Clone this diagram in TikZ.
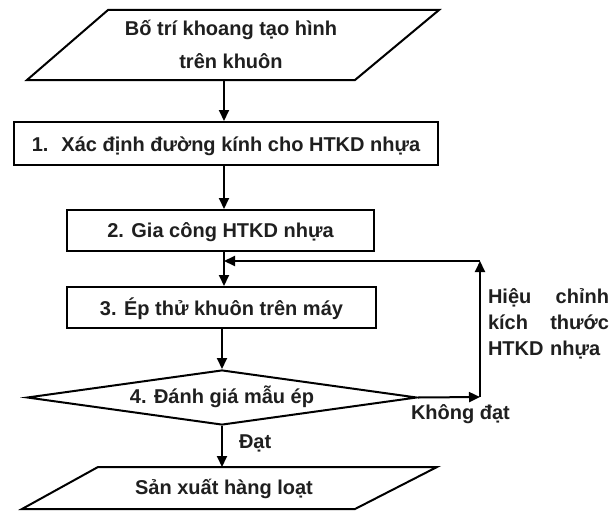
\documentclass[tikz,border=0pt]{standalone}
\usepackage{fontspec}
\setmainfont{Liberation Sans}
\usetikzlibrary{arrows.meta,shapes.geometric}
\begin{document}
\begin{tikzpicture}[x=1pt,y=-1pt,
  line width=2pt,
  lbl/.style={font=\bfseries\fontsize{20}{33}\selectfont, text=black!88, inner sep=0pt},
  stepbox/.style={draw, rectangle, inner sep=0pt},
  flow/.style={-{Triangle[length=11pt,width=10pt]}},
]
\fill[white] (0,0) rectangle (615,511);
\useasboundingbox (0,0) rectangle (615,511);

% input block at the top
\draw (108,10) -- (439,10) -- (355,80) -- (27,80) -- cycle;
\node[lbl, align=center] (start) at (231,44.5) {Bố trí khoang tạo hình\\trên khuôn};
\coordinate (startout) at (224,80);

% process steps
\node[stepbox, minimum width=424pt, minimum height=43pt] (b1) at (226,143.5) {};
\node[lbl] (t1) at (226,146) {1.~ Xác định đường kính cho HTKD nhựa};
\node[stepbox, minimum width=307pt, minimum height=41pt] (b2) at (220.5,230.5) {};
\node[lbl] (t2) at (220.5,232) {2. Gia công HTKD nhựa};
\node[stepbox, minimum width=309pt, minimum height=41pt] (b3) at (221.5,307.5) {};
\node[lbl] (t3) at (221.5,309) {3. Ép thử khuôn trên máy};

% decision
\node[draw, diamond, minimum width=390pt, minimum height=55pt, inner sep=0pt] (d) at (222,397.5) {};
\node[lbl] (t4) at (222,397) {4. Đánh giá mẫu ép};

% output block at the bottom
\draw (98,467) -- (437,467) -- (355,509) -- (22,509) -- cycle;
\node[lbl] (end) at (224,489) {Sản xuất hàng loạt};
\coordinate (endin) at (224,467);

% main flow
\draw[flow] (startout) -- (startout |- b1.north);
\draw[flow] (b1.south -| startout) -- (b2.north -| startout);
\draw[flow] (b2.south -| startout) -- (b3.north -| startout);
\draw[flow] (b3.south -| d.north) -- (d.north);
\draw[flow] (d.south) -- (endin -| d.south);

% feedback loop
\coordinate (fb1) at (480,397);
\coordinate (fb2) at (480,261);
\coordinate (join) at (224,261);
\draw[flow] (d.east) -- (fb1);
\draw[flow] (fb1) -- (fb2);
\draw[flow] (fb2) -- (join);

% labels
\node[lbl, anchor=west] (ok) at (238,443) {Đạt};
\node[lbl, anchor=west] (nok) at (410,414) {Không đạt};
\node[lbl, anchor=west, text width=121pt, align=left, font=\bfseries\fontsize{20}{26}\selectfont] (fix) at (487,324)
  {Hiệu\hfill chỉnh\\kích\hfill thước\\HTKD nhựa};
\end{tikzpicture}
\end{document}
